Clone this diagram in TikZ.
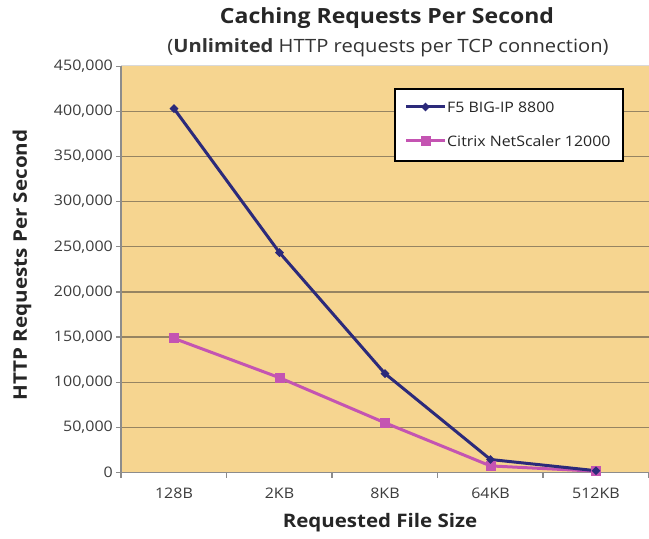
\documentclass[tikz,border=0pt]{standalone}
\usepackage{fontspec}
\setmainfont{Open Sans}[FakeStretch=1.1]
\usetikzlibrary{shapes.geometric}
\definecolor{plotbg}{RGB}{246,213,144}
\definecolor{gridc}{RGB}{150,132,98}
\definecolor{axisc}{RGB}{140,140,140}
\definecolor{fnavy}{RGB}{44,42,122}
\definecolor{cpink}{RGB}{196,84,178}
\definecolor{labc}{RGB}{60,60,60}
\begin{document}
\begin{tikzpicture}[x=1bp,y=-1bp,
  ticklab/.style={font=\fontsize{14.6}{14.6}\selectfont, text=labc, inner sep=0pt},
  f5line/.style={draw=fnavy, line width=3bp, line join=round},
  ctline/.style={draw=cpink, line width=3bp, line join=round},
  f5mark/.style={diamond, fill=fnavy, inner sep=0pt, minimum size=9bp},
  ctmark/.style={rectangle, fill=cpink, inner sep=0pt, minimum size=10bp},
  gridline/.style={draw=gridc, line width=1.3bp},
  axisline/.style={draw=axisc, line width=1.2bp},
  legtext/.style={font=\fontsize{14.5}{14.5}\selectfont, text=black!85, anchor=west, inner sep=0pt},
  ]
\useasboundingbox (0,0) rectangle (649,539);
\fill[white] (0,0) rectangle (649,539);
\fill[plotbg] (121,66) rectangle (649,472.5);
\draw[gray!30, line width=1bp] (121,66) -- (649,66);
\foreach \i in {1,...,8} \draw[gridline] (121,{472.5-45.15*\i}) -- (649,{472.5-45.15*\i});
\draw[axisline] (121,66) -- (121,472.5) -- (649,472.5);
\foreach \i/\lab in {0/0,1/{50,000},2/{100,000},3/{150,000},4/{200,000},5/{250,000},6/{300,000},7/{350,000},8/{400,000},9/{450,000}} {
  \draw[axisline] (116,{472.5-45.15*\i}) -- (121,{472.5-45.15*\i});
  \node[ticklab, anchor=east] (yl\i) at (113,{472.5-45.15*\i}) {\lab};
}
\foreach \k in {0,...,5} \draw[axisline] ({121+105.5*\k},472.5) -- ({121+105.5*\k},478);
\foreach \k/\lab in {0/128B,1/2KB,2/8KB,3/64KB,4/512KB}
  \node[ticklab] (xl\k) at ({174+105.5*\k},493) {\lab};

% titles
\node[font=\fontsize{21}{21}\selectfont\bfseries, text=black!85] (title) at (387,18) {Caching Requests Per Second};
\node[font=\fontsize{18.4}{18.4}\selectfont, text=black!80] (subtitle) at (388,48) {(\textbf{Unlimited} HTTP requests per TCP connection)};
\node[font=\fontsize{18.8}{18.8}\selectfont\bfseries, text=black!85, rotate=90] (ylab) at (22,265) {HTTP Requests Per Second};
\node[font=\fontsize{18.7}{18.7}\selectfont\bfseries, text=black!85] (xlab) at (380,523) {Requested File Size};

% data
\coordinate (a1) at (174,108.6);
\coordinate (a2) at (279.5,252.6);
\coordinate (a3) at (385,373.6);
\coordinate (a4) at (490.5,459.5);
\coordinate (a5) at (596,470.7);
\coordinate (b1) at (174,338.4);
\coordinate (b2) at (279.5,377.7);
\coordinate (b3) at (385,422.8);
\coordinate (b4) at (490.5,465.9);
\coordinate (b5) at (596,471.2);
\draw[ctline] (b1) -- (b2) -- (b3) -- (b4) -- (b5);
\draw[f5line] (a1) -- (a2) -- (a3) -- (a4) -- (a5);
\foreach \i in {1,...,5} \node[ctmark] (bm\i) at (b\i) {};
\foreach \i in {1,...,5} \node[f5mark] (am\i) at (a\i) {};

% legend
\draw[fill=white, draw=black, line width=2bp] (395,89.5) rectangle (622.5,161.5);
\coordinate (la1) at (406,107);
\coordinate (la2) at (445,107);
\coordinate (lb1) at (406,141);
\coordinate (lb2) at (445,141);
\draw[f5line] (la1) -- (la2);
\draw[ctline] (lb1) -- (lb2);
\node[f5mark] (lam) at (425.5,107) {};
\node[ctmark] (lbm) at (425.5,141) {};
\node[legtext] (lta) at (447,107) {F5 BIG-IP 8800};
\node[legtext] (ltb) at (447,141) {Citrix NetScaler 12000};
\end{tikzpicture}
\end{document}
